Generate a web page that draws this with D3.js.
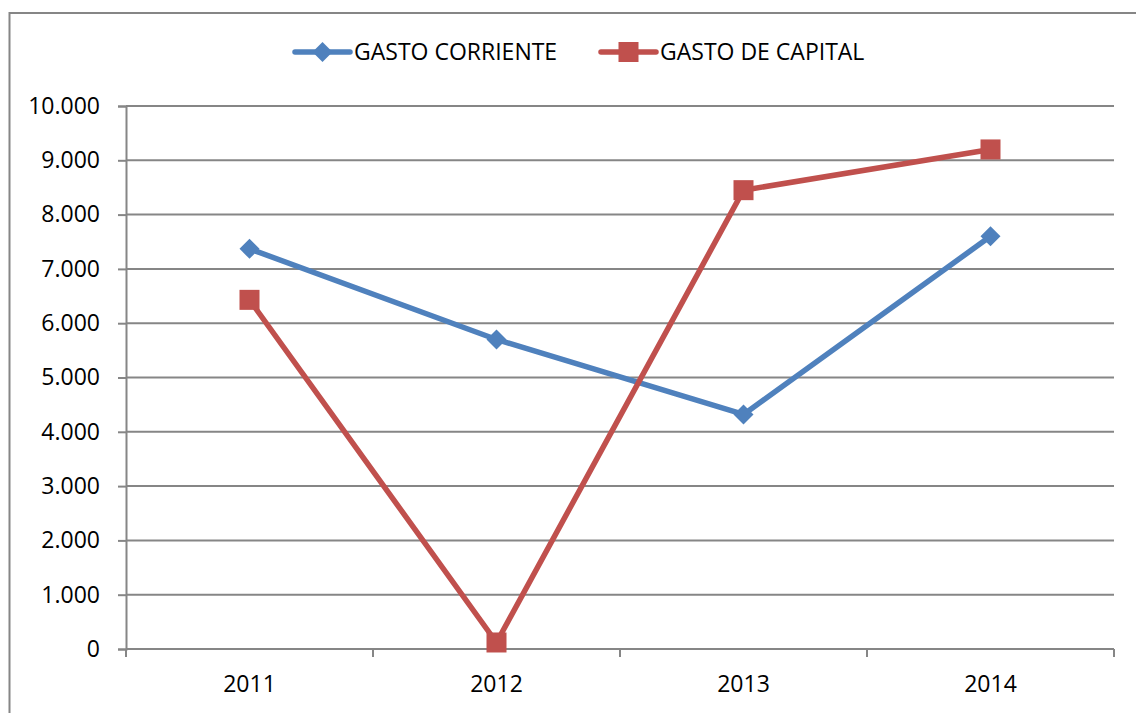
<!DOCTYPE html>
<html>
<head>
<meta charset="utf-8">
<script src="https://cdn.jsdelivr.net/npm/d3@7/dist/d3.min.js"></script>
<style>
  html, body { margin: 0; padding: 0; background: #ffffff; }
  svg { display: block; font-family: "Open Sans", "Liberation Sans", sans-serif; }
</style>
</head>
<body>
<svg id="chart" width="1136" height="713"></svg>
<script>
// Years on the category axis
const years = ["2011", "2012", "2013", "2014"];
// Current spending per year
const gastoCorriente = [7370, 5700, 4320, 7600];
// Capital spending per year
const gastoCapital = [6430, 120, 8450, 9200];
// Value axis ticks
const yTicks = [0, 1000, 2000, 3000, 4000, 5000, 6000, 7000, 8000, 9000, 10000];
const seriesNames = ["GASTO CORRIENTE", "GASTO DE CAPITAL"];

const colors = { corriente: "#4F81BD", capital: "#C0504D" };
const gridColor = "#868686";
const fontSize = 23;

const svg = d3.select("#chart");
const margin = { left: 126, right: 1114, top: 106, bottom: 649 };

// Outer chart frame
svg.append("rect")
  .attr("x", 9.5).attr("y", 13)
  .attr("width", 1140).attr("height", 720)
  .attr("fill", "none").attr("stroke", gridColor).attr("stroke-width", 2);

const x = d3.scaleBand().domain(years).range([margin.left, margin.right]).padding(0);
const y = d3.scaleLinear().domain([0, 10000]).range([margin.bottom, margin.top]);

const fmt = v => v === 0 ? "0" : d3.format(",")(v).replace(/,/g, ".");

// Horizontal gridlines
svg.append("g").selectAll("line").data(yTicks).join("line")
  .attr("x1", margin.left).attr("x2", margin.right)
  .attr("y1", d => y(d)).attr("y2", d => y(d))
  .attr("stroke", gridColor).attr("stroke-width", 2);

// Value axis
const yAxis = svg.append("g")
  .attr("transform", `translate(${margin.left},0)`)
  .call(d3.axisLeft(y).tickValues(yTicks).tickFormat(fmt).tickSize(8).tickPadding(18));
yAxis.select(".domain").attr("stroke", gridColor).attr("stroke-width", 2);
yAxis.selectAll(".tick line").attr("stroke", gridColor).attr("stroke-width", 2);
yAxis.selectAll(".tick text")
  .attr("font-size", fontSize).attr("fill", "#000").attr("font-family", "Open Sans, sans-serif");

// Category axis with ticks between categories
const xAxisG = svg.append("g");
xAxisG.append("line")
  .attr("x1", margin.left).attr("x2", margin.right)
  .attr("y1", y(0)).attr("y2", y(0))
  .attr("stroke", gridColor).attr("stroke-width", 2);
const boundaries = years.map(d => x(d)).concat([x(years[years.length - 1]) + x.bandwidth()]);
xAxisG.selectAll("line.tk").data(boundaries).join("line").attr("class", "tk")
  .attr("x1", d => d).attr("x2", d => d)
  .attr("y1", y(0)).attr("y2", y(0) + 8)
  .attr("stroke", gridColor).attr("stroke-width", 2);
xAxisG.selectAll("text").data(years).join("text")
  .attr("x", d => x(d) + x.bandwidth() / 2)
  .attr("y", y(0) + 43)
  .attr("text-anchor", "middle")
  .attr("font-size", fontSize).attr("fill", "#000")
  .text(d => d);

const cx = d => x(d) + x.bandwidth() / 2;
const line = d3.line().x((d, i) => cx(years[i])).y(d => y(d));

const diamond = d3.symbol().type(d3.symbolSquare).size(200);

// Series: current spending (diamonds)
svg.append("path").datum(gastoCorriente)
  .attr("d", line).attr("fill", "none")
  .attr("stroke", colors.corriente).attr("stroke-width", 5.5).attr("stroke-linejoin", "round");
svg.append("g").selectAll("path").data(gastoCorriente).join("path")
  .attr("d", diamond)
  .attr("transform", (d, i) => `translate(${cx(years[i])},${y(d)}) rotate(45)`)
  .attr("fill", colors.corriente);

// Series: capital spending (squares)
svg.append("path").datum(gastoCapital)
  .attr("d", line).attr("fill", "none")
  .attr("stroke", colors.capital).attr("stroke-width", 5.5).attr("stroke-linejoin", "round");
svg.append("g").selectAll("rect").data(gastoCapital).join("rect")
  .attr("x", (d, i) => cx(years[i]) - 10).attr("y", d => y(d) - 10)
  .attr("width", 20).attr("height", 20)
  .attr("fill", colors.capital);

// Legend
const legendItems = [
  { name: seriesNames[0], color: colors.corriente, x0: 295, shape: "diamond" },
  { name: seriesNames[1], color: colors.capital, x0: 601, shape: "square" }
];
const lg = svg.append("g");
legendItems.forEach(it => {
  const ly = 52;
  lg.append("line").attr("x1", it.x0).attr("x2", it.x0 + 55).attr("y1", ly).attr("y2", ly)
    .attr("stroke", it.color).attr("stroke-width", 5.5).attr("stroke-linecap", "round");
  if (it.shape === "diamond") {
    lg.append("path").attr("d", diamond)
      .attr("transform", `translate(${it.x0 + 27.5},${ly}) rotate(45)`)
      .attr("fill", it.color);
  } else {
    lg.append("rect").attr("x", it.x0 + 17.5).attr("y", ly - 10).attr("width", 20).attr("height", 20)
      .attr("fill", it.color);
  }
  lg.append("text").attr("x", it.x0 + 59).attr("y", ly + 8)
    .attr("font-size", fontSize).attr("fill", "#000").text(it.name);
});
</script>
</body>
</html>
